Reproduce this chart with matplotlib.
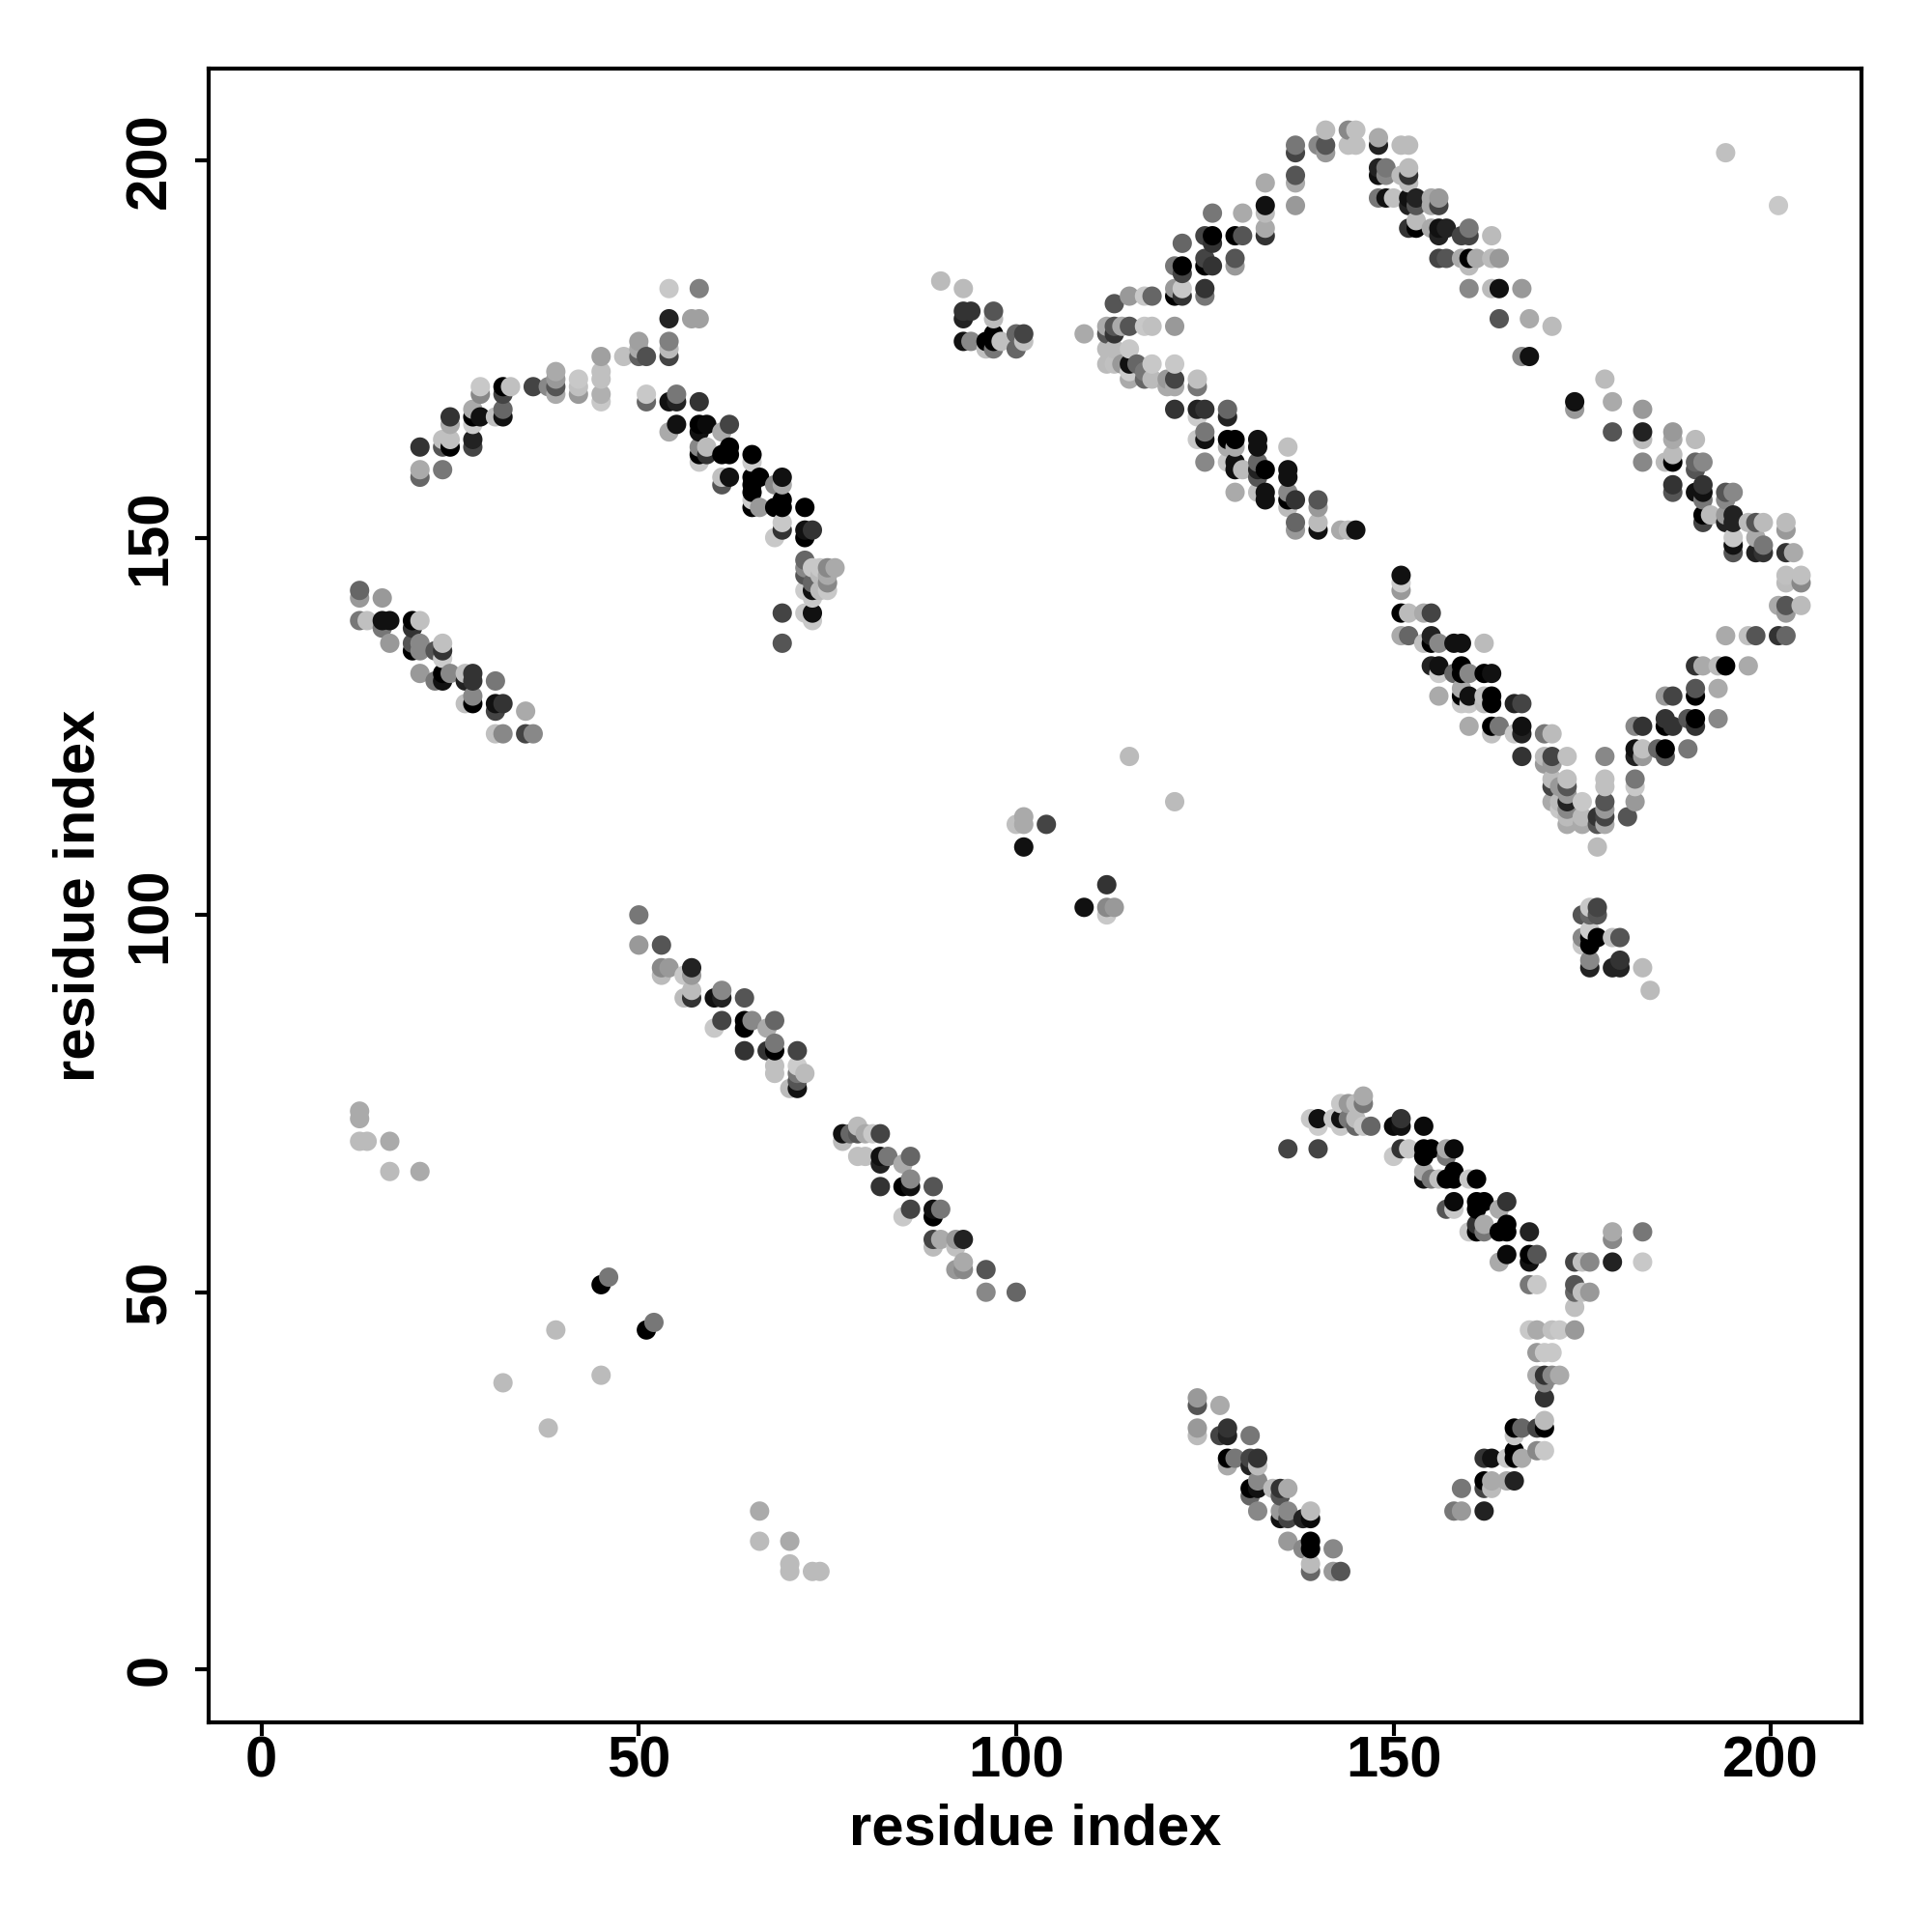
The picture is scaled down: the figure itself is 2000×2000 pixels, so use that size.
import numpy as np
import matplotlib
matplotlib.use("Agg")
import matplotlib.pyplot as plt

plt.rcParams['font.family'] = ['Liberation Sans', 'DejaVu Sans']

# contacts as (residue i, residue j, grey level)
left_arc = [
    (54,183,200),(58,183,128),(54,179,34),(57,179,160),(58,179,160),(50,176,160),(50,175,170),(50,174,96),
    (51,174,80),(54,176,128),(54,175,187),(54,174,68),(45,174,160),(48,174,192),(45,172,192),(45,171,192),
    (45,169,176),(45,168,200),(42,171,200),(42,170,192),(42,169,153),(39,172,170),(39,171,153),(39,170,85),
    (39,169,170),(38,170,136),(36,170,68),(32,170,0),(33,170,192),(32,169,68),(29,170,200),(29,169,136),
    (28,167,170),(28,166,0),(29,166,17),(28,165,204),(32,167,102),(32,166,17),(31,166,192),(25,166,51),
    (25,165,170),(24,163,192),(25,163,192),(25,162,0),(24,162,85),(28,163,34),(28,162,68),(21,162,51),
    (21,159,170),(21,158,102),(24,159,119),
]
right_arc = [
    (51,169,200),(51,168,102),(54,168,17),(55,169,119),(55,168,34),(58,168,51),(55,165,17),(54,164,170),
    (58,165,0),(59,165,10),(58,164,17),(62,165,68),(61,164,170),(58,162,136),(59,162,187),(58,161,0),
    (59,161,51),(58,160,200),(61,161,0),(62,162,0),(62,161,0),(61,158,192),(62,158,17),(61,157,85),
    (65,161,0),(65,160,204),(65,158,0),(66,158,0),(65,157,0),(65,156,0),(68,157,136),(69,158,17),
    (69,157,170),(65,155,204),(65,154,0),(66,154,153),(68,154,0),(69,155,0),(69,154,0),(72,154,0),
    (69,152,200),(69,151,51),(68,150,200),(72,151,17),(72,150,0),(73,151,51),(72,147,102),(72,146,136),
    (72,145,85),(72,143,204),(73,146,200),(73,144,102),(73,143,17),(74,146,200),(75,146,136),(76,146,170),
    (74,145,187),(75,145,170),(75,144,136),(74,143,187),(75,143,200),(73,142,200),(72,140,200),(73,140,17),
    (73,139,200),(69,140,68),(69,136,85),
]
upper_left_strand = [
    (13,143,102),(13,142,153),(16,142,153),(13,139,119),(14,139,192),(16,139,17),(17,139,17),(16,138,119),
    (20,139,0),(21,139,192),(20,138,51),(17,136,153),(20,136,85),(21,136,136),(20,135,0),(21,135,136),
    (24,136,192),(24,135,51),(23,135,85),(24,134,204),(21,132,153),(24,132,0),(25,132,136),(23,131,119),
    (24,131,17),(27,132,192),(28,132,51),(27,131,34),(28,131,51),(31,131,119),(27,128,192),(28,129,136),
    (28,128,0),(31,128,17),(32,128,51),(31,127,68),(35,127,170),(31,124,192),(32,124,136),(35,124,68),
    (36,124,136),
]
small_top_cluster = [
    (90,184,187),(93,183,187),(93,180,51),(94,180,51),(93,179,34),(97,180,85),(97,179,187),(93,176,17),
    (94,176,136),(96,176,0),(97,177,0),(97,176,0),(98,176,192),(96,175,192),(97,175,119),(100,177,102),
    (101,177,68),(100,175,102),(101,176,192),
]
diamond_upper_left = [
    (109,177,170),(112,178,170),(113,178,85),(114,178,170),(115,178,85),(117,178,200),(118,178,192),(121,178,153),
    (112,177,85),(113,177,51),(113,181,85),(115,182,153),(117,182,200),(118,182,102),(121,182,0),(122,182,51),
    (121,183,153),(122,183,200),(125,183,51),(125,182,119),(121,186,119),(122,186,0),(122,185,68),(125,187,68),
    (125,186,0),(126,186,51),(129,187,85),(129,186,153),(122,189,102),(125,190,68),(126,190,0),(126,189,51),
    (129,190,0),(130,190,85),(126,193,119),(130,193,170),(133,194,17),(133,193,187),(133,191,170),(133,190,51),
    (133,197,170),(137,198,85),(137,197,170),(137,194,153),(137,202,119),(137,201,68),(140,202,136),(141,202,85),
    (141,201,153),(141,204,187),(144,204,136),(145,204,192),(144,202,192),(145,202,192),
]
diamond_upper_right = [
    (148,203,170),(148,202,34),(151,202,187),(152,202,187),(148,199,34),(149,199,119),(148,198,17),(149,198,136),
    (151,198,187),(152,199,187),(152,198,51),(152,197,187),(148,195,119),(149,195,17),(150,195,192),(152,195,17),
    (153,195,34),(152,194,34),(153,194,85),(155,195,170),(156,195,153),(156,194,68),(155,194,170),(152,191,51),
    (153,192,187),(153,191,0),(155,191,170),(156,191,17),(157,191,34),(156,190,34),(159,190,68),(160,191,119),
    (160,190,68),(163,190,187),(156,187,68),(157,187,85),(159,187,170),(160,187,0),(161,187,170),(163,187,187),
    (164,187,153),(160,186,187),(160,183,136),(163,183,187),(164,183,17),(167,183,153),(164,179,85),(168,179,170),
    (171,178,187),(167,174,136),(168,174,17),(178,171,187),(174,168,17),(174,167,153),(179,168,170),(183,167,153),
    (179,164,85),(183,164,34),(183,163,187),(187,164,153),(187,163,170),(190,163,187),(183,160,136),(186,160,187),
    (187,161,187),(187,160,0),(190,160,102),(191,160,136),(190,159,85),(187,157,51),(187,156,85),(190,156,17),
    (191,157,51),(191,156,17),(191,155,119),(194,156,85),(195,156,136),(194,155,136),(191,153,0),(192,153,187),
    (191,152,68),(194,153,153),(195,153,34),(194,152,34),(195,152,34),(197,152,187),(198,152,85),(199,152,187),
    (202,152,187),(202,151,153),(195,150,200),(195,149,17),(195,148,85),(198,150,170),(199,149,119),(198,148,34),
    (199,148,51),(202,148,51),(203,148,170),(202,145,192),(202,144,187),(204,145,192),(204,144,136),(201,141,170),
    (202,141,85),(202,140,153),(204,141,187),(194,137,170),(197,137,192),(198,137,85),(201,137,51),(202,137,102),
]
diamond_lower_left = [
    (112,175,187),(113,175,187),(115,175,200),(112,173,187),(113,173,192),(114,173,153),(115,173,17),(115,172,204),
    (116,173,102),(118,173,200),(121,173,200),(115,171,170),(117,172,119),(117,171,102),(118,171,187),(120,171,153),
    (121,171,68),(124,171,192),(124,170,119),(121,170,170),(120,170,170),(121,167,51),(124,167,34),(125,167,51),
    (124,166,204),(128,167,102),(128,166,34),(125,164,119),(124,163,200),(125,163,17),(128,163,0),(129,163,0),
    (128,162,170),(129,162,170),(132,163,17),(132,162,17),(136,162,192),(125,160,136),(128,160,200),(129,160,17),
    (130,159,187),(129,159,17),(132,160,102),(133,159,0),(132,159,34),(132,158,85),(136,159,17),(136,158,17),
    (129,156,170),(132,156,192),(133,156,17),(133,155,17),(136,156,136),(136,155,0),(137,155,51),(136,154,187),
    (140,155,85),(140,154,153),(137,152,102),(137,151,153),(140,152,187),(140,151,17),(143,151,170),(144,151,187),
    (145,151,17),
]
diamond_lower_right = [
    (151,145,17),(151,144,204),(151,143,153),(151,140,0),(152,140,187),(154,140,170),(155,140,68),(151,137,170),
    (152,137,102),(154,136,192),(155,137,34),(155,136,0),(156,136,136),(158,136,17),(159,136,17),(162,136,187),
    (155,133,34),(156,133,17),(156,132,204),(158,132,102),(159,133,0),(159,132,0),(160,132,136),(162,132,0),
    (163,132,17),(156,129,170),(159,130,170),(159,129,0),(159,128,200),(160,129,17),(160,128,200),(162,129,192),
    (163,129,0),(163,128,0),(162,128,187),(166,128,34),(167,128,68),(160,125,170),(163,125,0),(164,125,119),
    (163,124,192),(166,124,200),(167,125,17),(167,124,34),(170,124,119),(171,124,187),(167,121,51),(170,121,187),
    (170,120,153),(171,121,68),(171,120,153),(173,121,192),(171,118,187),(171,117,68),(172,117,153),(173,118,192),
    (173,117,85),(173,116,153),(171,115,170),(172,115,187),(173,115,34),(173,114,136),(172,114,200),(173,112,170),
    (173,113,187),(175,115,200),(175,113,187),(175,112,170),(177,113,51),(177,112,85),(178,121,136),(178,118,192),
    (178,117,192),(178,115,85),(178,114,153),(178,113,68),(178,112,170),(181,113,85),(182,118,119),(182,117,200),
    (182,115,153),(177,109,187),(182,122,17),(182,121,34),(183,122,192),(183,121,153),(182,125,136),(183,125,51),
    (185,122,102),(186,122,0),(186,121,85),(189,122,119),(186,126,51),(186,125,0),(187,125,51),(189,126,85),
    (190,126,0),(190,125,51),(193,126,136),(186,129,153),(187,129,68),(190,130,85),(190,129,0),(193,130,170),
    (190,133,51),(191,133,170),(193,133,187),(194,133,0),(197,133,170),
]
lower_cluster = [
    (176,101,200),(177,101,68),(175,100,85),(176,100,102),(177,100,85),(175,97,136),(176,98,204),(176,97,0),
    (177,97,0),(175,96,200),(176,96,0),(179,97,192),(180,97,85),(176,94,136),(176,93,34),(179,93,34),
    (180,94,51),(180,93,34),(183,93,187),(184,90,187),
]
middle_strand = [
    (50,100,119),(50,96,153),(53,96,85),(53,93,136),(54,93,153),(53,92,187),(56,92,200),(57,93,34),
    (57,92,153),(57,90,187),(56,89,187),(57,89,51),(60,89,17),(61,90,136),(61,89,34),(64,89,85),
    (60,85,200),(61,86,68),(64,86,0),(64,85,0),(65,86,136),(67,85,170),(68,86,102),(64,82,51),
    (67,82,51),(68,83,119),(68,82,0),(71,82,68),(68,80,192),(68,79,192),(71,80,204),(71,79,119),
    (72,79,187),(71,78,85),(71,77,17),(70,77,187),(77,71,17),(78,71,102),(79,72,187),(79,71,85),
    (80,71,170),(81,71,200),(82,71,68),(77,70,187),(79,68,192),(80,68,192),(82,68,17),(83,68,119),
    (82,67,34),(85,67,170),(86,68,102),(82,64,51),(85,64,0),(86,64,17),(86,65,136),(89,64,85),
    (85,60,200),(86,61,68),(89,61,17),(89,60,0),(90,61,119),(89,57,68),(89,56,187),(90,57,170),
    (92,57,153),(93,57,34),(92,56,192),(93,54,170),(92,53,153),(93,53,136),(96,53,85),(96,50,136),
    (100,50,102),
]
lower_arc = [
    (140,73,17),(139,73,200),(140,72,204),(143,75,200),(144,75,153),(145,75,187),(146,76,170),(146,75,119),
    (142,73,200),(143,73,17),(144,73,119),(145,73,187),(143,72,200),(145,72,102),(146,72,200),(147,72,102),
    (136,69,68),(140,69,68),(150,72,10),(151,73,51),(151,72,17),(154,72,10),(150,68,200),(151,69,51),
    (152,69,200),(154,69,0),(155,69,0),(154,68,0),(157,69,170),(158,69,10),(157,68,119),(154,66,170),
    (154,65,17),(155,65,119),(156,65,192),(157,65,0),(158,66,0),(158,65,0),(160,65,200),(161,65,0),
    (158,62,10),(157,61,85),(158,61,200),(161,62,0),(162,62,0),(161,61,0),(164,61,170),(165,62,51),
    (161,59,51),(162,59,170),(160,58,200),(161,58,0),(162,58,119),(164,58,0),(165,59,0),(165,58,0),
    (168,58,34),(164,54,170),(165,55,10),(168,55,0),(168,54,17),(169,55,85),(168,51,119),(169,51,200),
    (174,54,68),(175,54,192),(176,54,136),(179,58,170),(179,57,136),(179,54,34),(183,58,119),(183,54,200),
    (174,51,85),(174,50,102),(175,50,192),(176,50,153),(174,48,192),
]
lower_hook = [
    (168,45,200),(169,45,170),(171,45,192),(172,45,200),(174,45,153),(169,42,153),(170,42,200),(171,42,200),
    (169,39,170),(170,39,51),(171,39,136),(172,39,170),(170,38,136),(170,36,51),(166,32,0),(167,32,102),
    (169,32,68),(170,32,0),(170,33,187),(166,31,200),(166,29,0),(169,29,136),(170,29,200),(162,28,51),
    (163,28,17),(165,28,200),(166,28,0),(167,28,170),(162,25,0),(163,25,170),(165,25,170),(166,25,34),
    (162,24,68),(163,24,187),(159,24,119),(158,21,119),(159,21,153),(162,21,34),
]
lower_strand = [
    (124,36,153),(124,35,85),(127,35,170),(124,32,153),(124,31,187),(127,31,68),(128,32,51),(128,31,34),
    (131,31,119),(128,28,0),(129,28,119),(128,27,170),(131,28,68),(132,28,51),(131,27,34),(132,27,187),
    (131,24,0),(132,25,136),(132,24,17),(131,23,102),(134,24,187),(135,24,51),(136,24,170),(135,23,85),
    (132,21,136),(135,21,153),(136,21,136),(135,20,17),(136,20,68),(138,20,34),(139,21,187),(139,20,10),
    (136,17,153),(138,16,136),(139,17,0),(139,16,0),(142,16,136),(139,14,187),(139,13,102),(142,13,153),
    (143,13,85),
]
isolated = [
    (194,201,192),(201,194,200),(13,74,170),(13,73,170),(13,70,187),(14,70,187),(17,70,170),(17,66,187),
    (21,66,170),(39,45,187),(32,38,187),(45,39,187),(38,32,187),(66,21,170),(66,17,187),(70,17,170),
    (70,14,187),(70,13,187),(73,13,187),(74,13,187),(115,121,187),(121,115,187),(100,112,192),(101,113,170),
    (101,112,170),(104,112,68),(101,109,17),(109,101,17),(112,104,51),(112,101,136),(113,101,153),(112,100,200),
    (46,52,119),(45,51,0),(52,46,119),(51,45,0),
]

contacts = np.array(
    left_arc + right_arc + upper_left_strand + small_top_cluster + diamond_upper_left
    + diamond_upper_right + diamond_lower_left + diamond_lower_right + lower_cluster
    + middle_strand + lower_arc + lower_hook + lower_strand + isolated
)
# later points sit on top: increasing i, then increasing j
contacts = contacts[np.lexsort((contacts[:, 1], contacts[:, 0]))]

fig = plt.figure(figsize=(10, 10), dpi=200)
ax = fig.add_axes([0.1078, 0.1085, 0.8557, 0.8558])
ax.scatter(contacts[:, 0], contacts[:, 1], c=contacts[:, 2], cmap='gray', vmin=0, vmax=255,
           s=52, linewidths=0, clip_on=False)

ax.set_xlim(-7.05, 212)
ax.set_ylim(-7, 212.1)
ticks = [0, 50, 100, 150, 200]
ax.set_xticks(ticks)
ax.set_yticks(ticks)
ax.tick_params(axis='both', length=5, width=1.5, labelsize=21.5)
ax.tick_params(axis='x', pad=-0.2)
ax.tick_params(axis='y', pad=6.5)
for lab in ax.get_xticklabels():
    lab.set_fontweight('bold')
for lab in ax.get_yticklabels():
    lab.set_fontweight('bold')
    lab.set_rotation(90)
    lab.set_va('center')
for side in ax.spines.values():
    side.set_linewidth(1.5)

ax.set_xlabel('residue index', fontsize=21.5, fontweight='bold', labelpad=5.6)
ax.set_ylabel('residue index', fontsize=21.5, fontweight='bold', labelpad=7)

fig.savefig('out.png', dpi=200)
